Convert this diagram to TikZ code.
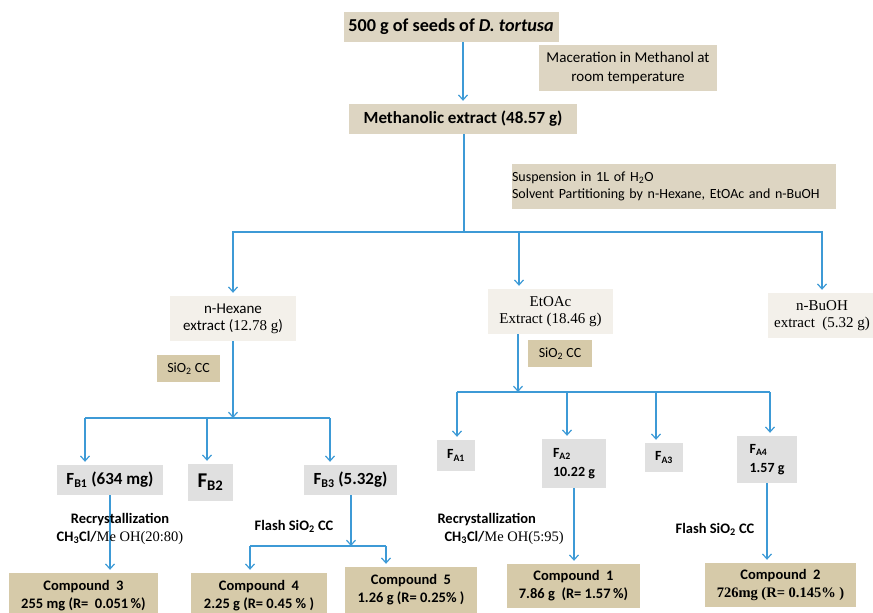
\documentclass[tikz,border=0pt]{standalone}
\usepackage{fontspec}
\setmainfont{Carlito}
\newfontfamily\timesfont{Liberation Serif}
\usepackage{xcolor}
\usetikzlibrary{arrows.meta}
\definecolor{boxtan}{HTML}{DDD5C2}
\definecolor{darktan}{HTML}{D6CAA9}
\definecolor{fracgray}{HTML}{E0E0E0}
\definecolor{extbeige}{HTML}{F3F0EA}
\definecolor{linkblue}{HTML}{3D9AD6}
\tikzstyle{topbox} = [rectangle, 
fill=boxtan, 
text centered, 
inner sep=0pt, 
font=\fontsize{17}{20}\selectfont\bfseries]
\tikzstyle{notebox} = [rectangle, 
fill=boxtan, 
inner sep=0pt, 
font=\fontsize{14}{17.5}\selectfont]
\tikzstyle{extractbox} = [rectangle, 
fill=extbeige, 
align=center, 
inner sep=0pt, 
font=\fontsize{15}{17}\selectfont]
\tikzstyle{ccbox} = [rectangle, 
fill=darktan, 
inner sep=0pt, 
font=\fontsize{14}{16}\selectfont]
\tikzstyle{fracbox} = [rectangle, 
fill=fracgray, 
inner sep=0pt, 
font=\fontsize{17}{19}\selectfont\bfseries]
\tikzstyle{compbox} = [rectangle, 
fill=darktan, 
align=center, 
inner sep=0pt, 
font=\fontsize{14.5}{18}\selectfont\bfseries]
\tikzstyle{steplabel} = [align=center, font=\fontsize{14.5}{18}\selectfont\bfseries]
\tikzstyle{arrow} = [draw=linkblue, line width=1.2pt, -{Straight Barb[length=5pt,width=9pt]}, shorten >=3pt]
\tikzstyle{link} = [draw=linkblue, line width=1.2pt]

\begin{document}
\begin{tikzpicture}[x=1pt, y=-1pt]
\useasboundingbox (0,0) rectangle (873,613);

\node (seed) [topbox, font=\fontsize{18.2}{20}\selectfont\bfseries, minimum width=215pt, minimum height=30pt] at (451,27) {500 g of seeds of \textit{D. tortusa}};
\node (macer) [notebox, font=\fontsize{15}{18.5}\selectfont, align=center, minimum width=178pt, minimum height=46pt] at (628,68) {Maceration in Methanol at\\room temperature};
\node (meth) [topbox, minimum width=228pt, minimum height=30pt] at (463,119) {Methanolic extract (48.57 g)};
\node (suspend) [notebox, align=left, text width=324pt, minimum height=45pt] at (674,186.5) {Suspension in 1L of H\textsubscript{2}O\\Solvent Partitioning by n-Hexane, EtOAc and n-BuOH};

\node (hex) [extractbox, minimum width=126pt, minimum height=45pt] at (233,318.5) {n-Hexane\\extract ({\timesfont 12.78 g})};
\node (etoac) [extractbox, font=\fontsize{15}{17}\selectfont\timesfont, minimum width=125pt, minimum height=45pt] at (550.5,311.5) {EtOAc\\Extract (18.46 g)};
\node (butanol) [extractbox, font=\fontsize{15}{17}\selectfont\timesfont, minimum width=108pt, minimum height=45pt] at (822,315.5) {n-BuOH\\extract~ (5.32 g)};

\node (sio2b) [ccbox, minimum width=63pt, minimum height=27pt] at (188.5,368.5) {SiO\textsubscript{2} CC};
\node (sio2a) [ccbox, minimum width=64pt, minimum height=27pt] at (560,353.5) {SiO\textsubscript{2} CC};

\node (fb1) [fracbox, minimum width=106pt, minimum height=30pt] at (110,480) {F\textsubscript{B1} (634 mg)};
\node (fb2) [fracbox, font=\fontsize{21}{23}\selectfont\bfseries, minimum width=45pt, minimum height=37pt] at (210.5,482.5) {F\textsubscript{B2}};
\node (fb3) [fracbox, minimum width=93pt, minimum height=30pt] at (350.5,480) {F\textsubscript{B3} (5.32g)};

\node (fa1) [fracbox, font=\fontsize{14}{17}\selectfont\bfseries, minimum width=38pt, minimum height=31pt] at (456,455.5) {F\textsubscript{A1}};
\node (fa2) [fracbox, font=\fontsize{14}{19}\selectfont\bfseries, align=left, minimum width=64pt, minimum height=49pt] at (574,463.5) {F\textsubscript{A2}\\10.22 g};
\node (fa3) [fracbox, font=\fontsize{14}{17}\selectfont\bfseries, minimum width=38pt, minimum height=29pt] at (664,457.5) {F\textsubscript{A3}};
\node (fa4) [fracbox, font=\fontsize{14}{19}\selectfont\bfseries, align=left, minimum width=60pt, minimum height=47pt] at (767,459.5) {F\textsubscript{A4}\\1.57 g};

\node (comp3) [compbox, minimum width=149pt, minimum height=46pt] at (83.5,596) {Compound\ \ 3\\255 mg (R=\ \ 0.051\,\%)};
\node (comp4) [compbox, minimum width=136pt, minimum height=46pt] at (259,596) {Compound\ \ 4\\2.25 g (R= 0.45 \% )};
\node (comp5) [compbox, minimum width=132pt, minimum height=46pt] at (411,590) {Compound\ \ 5\\1.26 g (R= 0.25\% )};
\node (comp1) [compbox, minimum width=133pt, minimum height=44pt] at (573.5,586) {Compound\ \ 1\\7.86 g\ \ (R= 1.57\,\%)};
\node (comp2) [compbox, minimum width=151pt, minimum height=44pt] at (780.5,585) {Compound\ \ 2\\{\timesfont 726mg (R= 0.145\% )}};

\coordinate (split) at (464,232);
\coordinate (etdrop) at (519,232);
\coordinate (hexsplit) at (233,418);
\coordinate (b1) at (85,418);
\coordinate (b2) at (207,418);
\coordinate (b3) at (330,418);
\coordinate (etsplit) at (518,392);
\coordinate (a1) at (457,392);
\coordinate (a2) at (567,392);
\coordinate (a3) at (656,392);
\coordinate (a4) at (770,392);
\coordinate (fb3split) at (351,546);
\coordinate (c4drop) at (250,546);
\coordinate (c5drop) at (386,546);

\draw [arrow] (seed.south -| meth.north) -- (meth.north);
\draw [link] (meth.south -| split) -- (split);
\draw [arrow] (split) -| (hex);
\draw [arrow] (split) -| (butanol);
\draw [arrow] (etdrop) -- (etdrop |- etoac.north);

\draw [arrow, shorten >=0pt] (hex) -- (hexsplit);
\draw [link] (b1) -- (b3);
\draw [arrow] (b1) -- (b1 |- fb1.north);
\draw [arrow] (b2) -- (b2 |- fb2.north);
\draw [arrow] (b3) -- (b3 |- fb3.north);

\draw [arrow, shorten >=0pt] (etsplit |- etoac.south) -- (etsplit);
\draw [link] (a1) -- (a4);
\draw [arrow] (a1) -- (a1 |- fa1.north);
\draw [arrow] (a2) -- (a2 |- fa2.north);
\draw [arrow] (a3) -- (a3 |- fa3.north);
\draw [arrow] (a4) -- (a4 |- fa4.north);

\draw [arrow] (fb1.south) -- (fb1.south |- comp3.north);
\draw [arrow, shorten >=0pt] (fb3.south -| fb3split) -- (fb3split);
\draw [link] (c4drop) -- (c5drop);
\draw [arrow] (c4drop) -- (c4drop |- comp4.north);
\draw [arrow] (c5drop) -- (c5drop |- comp5.north);
\draw [arrow] (fa2.south) -- (fa2.south |- comp1.north);
\draw [arrow] (fa4.south) -- (fa4.south |- comp2.north);

% labels on the steps
\node (recryst1) [steplabel] at (120,529) {Recrystallization\\CH\textsubscript{3}Cl/{\timesfont\mdseries Me OH(20:80)}};
\node (flash1) [steplabel] at (294,526) {Flash SiO\textsubscript{2} CC};
\node (recryst2) [steplabel, align=left, anchor=west] at (434,529) {Recrystallization\\\hspace*{7pt}CH\textsubscript{3}Cl/{\timesfont\mdseries Me OH(5:95)}};
\node (flash2) [steplabel] at (715,529) {Flash SiO\textsubscript{2} CC};

\end{tikzpicture}
\end{document}
